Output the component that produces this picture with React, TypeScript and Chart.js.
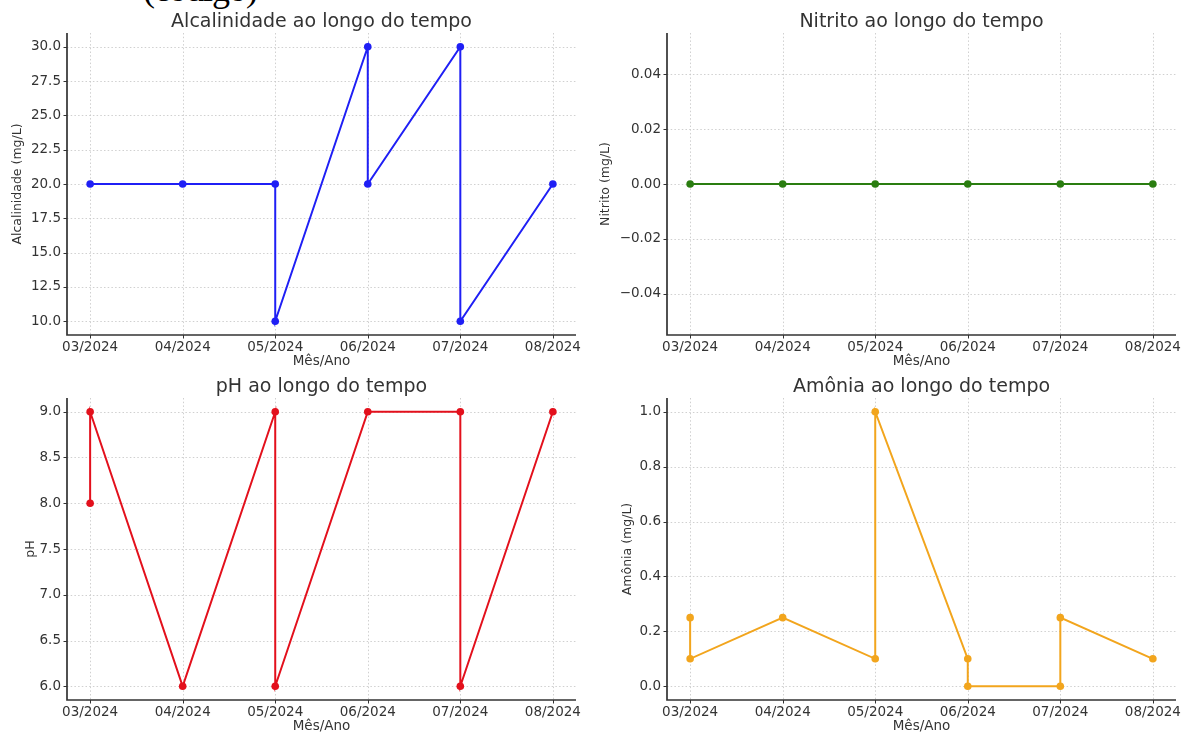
import React, { useEffect, useRef } from 'react';
import { Chart, registerables } from 'chart.js';

Chart.register(...registerables);

const monthLabels = ['03/2024', '04/2024', '05/2024', '06/2024', '07/2024', '08/2024'];

const alcDates = ['03/2024', '04/2024', '05/2024', '05/2024', '06/2024', '06/2024', '07/2024', '07/2024', '08/2024'];
const alcValues = [20, 20, 20, 10, 30, 20, 30, 10, 20];
const alcTicks = [10, 12.5, 15, 17.5, 20, 22.5, 25, 27.5, 30];

const nitDates = ['03/2024', '04/2024', '05/2024', '06/2024', '07/2024', '08/2024'];
const nitValues = [0, 0, 0, 0, 0, 0];
const nitTicks = [-0.04, -0.02, 0, 0.02, 0.04];

const phDates = ['03/2024', '03/2024', '04/2024', '05/2024', '05/2024', '06/2024', '07/2024', '07/2024', '08/2024'];
const phValues = [8, 9, 6, 9, 6, 9, 9, 6, 9];
const phTicks = [6, 6.5, 7, 7.5, 8, 8.5, 9];

const amoDates = ['03/2024', '03/2024', '04/2024', '05/2024', '05/2024', '06/2024', '06/2024', '07/2024', '07/2024', '08/2024'];
const amoValues = [0.25, 0.1, 0.25, 0.1, 1.0, 0.1, 0, 0, 0.25, 0.1];
const amoTicks = [0, 0.2, 0.4, 0.6, 0.8, 1.0];

const FONT = '"DejaVu Sans", Verdana, sans-serif';
const TEXT = '#333333';

type PanelProps = {
  title: string;
  yLabel: string;
  dates: string[];
  values: number[];
  ticks: number[];
  decimals: number;
  color: string;
  yMin: number;
  yMax: number;
  left: number;
  top: number;
  width: number;
  height: number;
  yAxisWidth: number;
  padTop: number;
  padRight: number;
  yTitlePad: number;
};

function fmt(v: number, d: number) {
  const s = Math.abs(v) < 1e-12 ? (0).toFixed(d) : v.toFixed(d);
  return s.replace('-', '\u2212');
}

function Panel(p: PanelProps) {
  const ref = useRef<HTMLCanvasElement | null>(null);
  useEffect(() => {
    if (!ref.current) return;
    const decor = {
      id: 'decor',
      beforeDatasetsDraw(chart: any) {
        const { ctx, chartArea: a, scales } = chart;
        const x = scales.x;
        const y = scales.y;
        ctx.save();
        ctx.strokeStyle = '#c4c4c4';
        ctx.lineWidth = 0.8;
        ctx.setLineDash([1.5, 2.2]);
        x.ticks.forEach((t: any) => {
          const px = Math.round(x.getPixelForValue(t.value)) + 0.5;
          ctx.beginPath();
          ctx.moveTo(px, a.top);
          ctx.lineTo(px, a.bottom);
          ctx.stroke();
        });
        y.ticks.forEach((t: any) => {
          const py = Math.round(y.getPixelForValue(t.value)) + 0.5;
          ctx.beginPath();
          ctx.moveTo(a.left, py);
          ctx.lineTo(a.right, py);
          ctx.stroke();
        });
        ctx.restore();
      },
      afterDraw(chart: any) {
        const { ctx, chartArea: a, scales } = chart;
        const x = scales.x;
        const y = scales.y;
        ctx.save();
        ctx.setLineDash([]);
        ctx.strokeStyle = TEXT;
        ctx.lineWidth = 1;
        x.ticks.forEach((t: any) => {
          const px = Math.round(x.getPixelForValue(t.value)) + 0.5;
          ctx.beginPath();
          ctx.moveTo(px, a.bottom);
          ctx.lineTo(px, a.bottom + 3.5);
          ctx.stroke();
        });
        y.ticks.forEach((t: any) => {
          const py = Math.round(y.getPixelForValue(t.value)) + 0.5;
          ctx.beginPath();
          ctx.moveTo(a.left - 3.5, py);
          ctx.lineTo(a.left, py);
          ctx.stroke();
        });
        ctx.lineWidth = 1.7;
        ctx.beginPath();
        ctx.moveTo(a.left, a.top);
        ctx.lineTo(a.left, a.bottom);
        ctx.lineTo(a.right, a.bottom);
        ctx.stroke();
        ctx.fillStyle = TEXT;
        ctx.font = '19px ' + FONT;
        ctx.textAlign = 'center';
        ctx.textBaseline = 'alphabetic';
        ctx.fillText(p.title, (a.left + a.right) / 2, a.top - 6);
        ctx.restore();
      },
    };

    const data = p.dates.map((d, i) => ({ x: monthLabels.indexOf(d), y: p.values[i] }));

    const chart = new Chart(ref.current, {
      type: 'line',
      data: {
        datasets: [
          {
            data,
            borderColor: p.color,
            backgroundColor: p.color,
            borderWidth: 2,
            pointRadius: 3.8,
            pointBorderWidth: 0,
            pointHoverRadius: 3.8,
            tension: 0,
            fill: false,
          },
        ],
      },
      options: {
        responsive: false,
        animation: false,
        events: [],
        layout: { padding: { top: p.padTop, right: p.padRight, left: 0, bottom: 0 } },
        plugins: {
          legend: { display: false },
          tooltip: { enabled: false },
          title: { display: false },
        },
        scales: {
          x: {
            type: 'linear',
            min: -0.25,
            max: 5.25,
            grid: { display: false, drawTicks: false },
            border: { display: false },
            afterBuildTicks: (scale: any) => {
              scale.ticks = monthLabels.map((_, i) => ({ value: i }));
            },
            afterFit: (scale: any) => {
              scale.height = 33;
            },
            ticks: {
              autoSkip: false,
              maxRotation: 0,
              minRotation: 0,
              padding: 4,
              color: TEXT,
              font: { family: FONT, size: 13.5 },
              callback: (v: any) => monthLabels[Math.round(Number(v))] ?? '',
            },
            title: {
              display: true,
              text: 'Mês/Ano',
              color: TEXT,
              font: { family: FONT, size: 13.5, lineHeight: 1 },
              padding: { top: 0, bottom: 0 },
            },
          },
          y: {
            type: 'linear',
            min: p.yMin,
            max: p.yMax,
            grid: { display: false, drawTicks: false },
            border: { display: false },
            afterBuildTicks: (scale: any) => {
              scale.ticks = p.ticks.map((v) => ({ value: v }));
            },
            afterFit: (scale: any) => {
              scale.width = p.yAxisWidth;
            },
            ticks: {
              autoSkip: false,
              padding: 6,
              color: TEXT,
              font: { family: FONT, size: 13.5 },
              callback: (v: any) => fmt(Number(v), p.decimals),
            },
            title: {
              display: true,
              text: p.yLabel,
              color: TEXT,
              font: { family: FONT, size: 12.5, lineHeight: 1 },
              padding: { top: p.yTitlePad, bottom: 0 },
            },
          },
        },
      },
      plugins: [decor],
    } as any);
    return () => chart.destroy();
  }, []);

  return (
    <canvas
      ref={ref}
      width={p.width}
      height={p.height}
      style={{ position: 'absolute', left: p.left, top: p.top, width: p.width, height: p.height }}
    />
  );
}

export default function App() {
  return (
    <div
      style={{
        position: 'absolute',
        left: 0,
        top: 0,
        width: 1187,
        height: 733,
        background: '#ffffff',
        overflow: 'hidden',
      }}
    >
      <div
        style={{
          position: 'absolute',
          left: 143,
          top: -29,
          fontFamily: '"Liberation Serif", "Times New Roman", serif',
          fontSize: 36,
          lineHeight: '36px',
          letterSpacing: '-1px',
          color: '#000',
          whiteSpace: 'nowrap',
        }}
      >
        (código)
      </div>
      <Panel
        title="Alcalinidade ao longo do tempo"
        yLabel="Alcalinidade (mg/L)"
        dates={alcDates}
        values={alcValues}
        ticks={alcTicks}
        decimals={1}
        color="#1f1ff5"
        yMin={9}
        yMax={31}
        left={0}
        top={0}
        width={590}
        height={368}
        yAxisWidth={67}
        padTop={33}
        padRight={14}
        yTitlePad={11}
      />
      <Panel
        title="Nitrito ao longo do tempo"
        yLabel="Nitrito (mg/L)"
        dates={nitDates}
        values={nitValues}
        ticks={nitTicks}
        decimals={2}
        color="#2a7d10"
        yMin={-0.055}
        yMax={0.055}
        left={590}
        top={0}
        width={597}
        height={368}
        yAxisWidth={77}
        padTop={33}
        padRight={11}
        yTitlePad={9}
      />
      <Panel
        title="pH ao longo do tempo"
        yLabel="pH"
        dates={phDates}
        values={phValues}
        ticks={phTicks}
        decimals={1}
        color="#e3101c"
        yMin={5.85}
        yMax={9.15}
        left={0}
        top={368}
        width={590}
        height={365}
        yAxisWidth={67}
        padTop={30}
        padRight={14}
        yTitlePad={24}
      />
      <Panel
        title="Amônia ao longo do tempo"
        yLabel="Amônia (mg/L)"
        dates={amoDates}
        values={amoValues}
        ticks={amoTicks}
        decimals={1}
        color="#f2a51d"
        yMin={-0.05}
        yMax={1.05}
        left={590}
        top={368}
        width={597}
        height={365}
        yAxisWidth={77}
        padTop={30}
        padRight={11}
        yTitlePad={31}
      />
    </div>
  );
}
